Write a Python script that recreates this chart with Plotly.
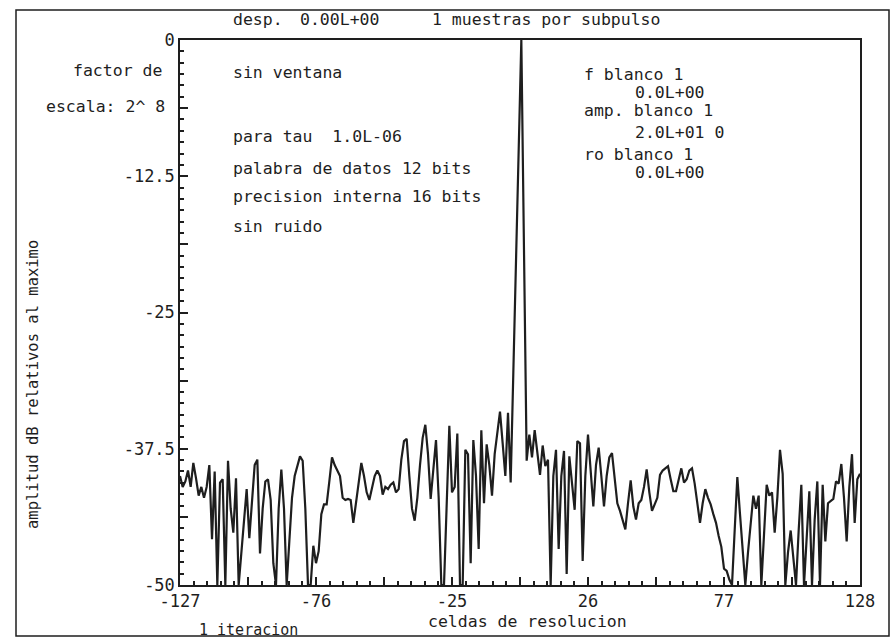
import plotly.graph_objects as go

# ---------------- data ----------------
cells = list(range(-127, 129))
amplitude_db = [
    -40, -41, -40.5, -39.5, -41, -38.8, -40.2, -41.8, -41, -42,
    -41, -39, -45.8, -39.6, -50, -40.6, -40.3, -50, -38.6, -43,
    -45.2, -40.2, -50, -47, -43.5, -41.2, -45.7, -42.5, -39, -38.5,
    -47.1, -43, -40.5, -40.3, -42.2, -48, -50, -43, -39.4, -43,
    -50, -46, -42, -40, -39, -38.2, -38.6, -43, -50, -50,
    -46.4, -48, -46.9, -43.5, -42.6, -42.6, -40.5, -38.3, -39, -39.5,
    -40, -42, -42.2, -42.1, -42.2, -44.3, -42.5, -40.5, -38.8, -40,
    -41.5, -42.2, -41, -40, -39.5, -40, -41.7, -41, -41.2, -40.8,
    -40.6, -41.5, -41.2, -38.5, -36.8, -36.6, -40, -43, -44.1, -42,
    -39, -36.5, -35.3, -38, -42.1, -39, -36.7, -42, -50, -50,
    -42, -35.4, -41.5, -41, -36.1, -50, -50, -37.6, -38, -48,
    -36.7, -40, -46.7, -35.8, -42.5, -37.1, -39, -41.8, -38, -36,
    -34.1, -37, -40, -34.2, -40.6, -30.5, -20.3, -10.2, 0, -19.3,
    -38.6, -36.2, -38.3, -35.8, -38, -39.9, -37.2, -39.1, -38.5, -50,
    -40, -37.6, -46.7, -40, -37.7, -49, -38.2, -40.5, -43.1, -36.8,
    -37, -47.8, -40, -36.2, -39.5, -42.8, -39, -37.4, -40, -42.8,
    -40, -38.3, -37.9, -40, -42.5, -43.2, -44, -44.9, -42.5, -40.4,
    -42.8, -44, -42.5, -42.2, -41, -39.4, -41.5, -43.2, -42.6, -42,
    -39.9, -39.5, -39.3, -39.1, -40.3, -41.4, -41.4, -40.2, -39.3, -40.6,
    -40.3, -39.5, -39.3, -40.7, -42.5, -44.3, -42.5, -41.2, -42, -42.6,
    -43.5, -44.3, -45.5, -46.5, -48.5, -48.7, -49.5, -50, -45, -40.1,
    -43.5, -47, -50, -47, -44, -41.8, -43, -41.8, -50, -45,
    -40.8, -41.8, -41.5, -45.2, -42, -37.6, -39.8, -50, -47, -45,
    -47.5, -50, -45, -40.8, -50, -45, -41.4, -50, -44, -40.5,
    -50, -40.8, -46, -42.5, -42.3, -42.1, -40.5, -40.7, -38.9, -42,
    -46, -41, -38, -44.3, -40.3, -39.8,
]

x_tickvals = [-127, -101.5, -76, -50.5, -25, 0.5, 26, 51.5, 77, 102.5, 128]
x_ticktext = ["-127", "", "-76", "", "-25", "", "26", "", "77", "", "128"]
y_tickvals = [0, -6.25, -12.5, -18.75, -25, -31.25, -37.5, -43.75, -50]
y_ticktext = ["0", "", "-12.5", "", "-25", "", "-37.5", "", "-50"]

header_texts = ["desp.", "0.00L+00", "1 muestras por subpulso"]
left_texts = ["sin ventana", "para tau  1.0L-06", "palabra de datos 12 bits",
              "precision interna 16 bits", "sin ruido"]
right_texts = ["f blanco 1", "0.0L+00", "amp. blanco 1", "2.0L+01 0",
               "ro blanco 1", "0.0L+00"]
scale_texts = ["factor de", "escala: 2^ 8"]
y_title = "amplitud dB relativos al maximo"
x_title = "celdas de resolucion"
iter_text = "1 iteracion"

# ---------------- layout helpers ----------------
W, H = 896, 640
L, R, T, B = 180, 36, 40, 55
PW, PH = W - L - R, H - T - B


def px(x):
    return (x - L) / PW


def py(y):
    return (H - B - y) / PH


FONT = "DejaVu Sans Mono"
INK = "#1e1e1e"

fig = go.Figure()
fig.add_trace(go.Scatter(
    x=cells, y=amplitude_db, mode="lines",
    line=dict(color=INK, width=2.2), hoverinfo="skip", showlegend=False,
))

annotations = []


def note(text, x, y, size=16.5, xanchor="left", angle=0):
    annotations.append(dict(
        text=text, x=px(x), y=py(y), xref="paper", yref="paper",
        xanchor=xanchor, yanchor="middle", showarrow=False, textangle=angle,
        font=dict(family=FONT, size=size, color=INK),
    ))


note(header_texts[0], 231, 19)
note(header_texts[1], 298, 19)
note(header_texts[2], 430, 19)

for t, yy in zip(left_texts, [73, 136, 168, 197, 227]):
    note(t, 231, yy)

for t, xx, yy in zip(right_texts, [582, 633, 582, 633, 582, 633],
                     [75, 93, 111, 133, 155, 173]):
    note(t, xx, yy)

note(scale_texts[0], 164, 71, xanchor="right")
note(scale_texts[1], 167, 107, xanchor="right")

note(y_title, 33, 385, size=15.5, xanchor="center", angle=-90)
note(x_title, 527, 621, xanchor="center")
note(iter_text, 197, 630, size=15)

fig.update_layout(
    width=W, height=H,
    margin=dict(l=L, r=R, t=T, b=B),
    paper_bgcolor="white", plot_bgcolor="white",
    annotations=annotations,
    shapes=[dict(type="rect", xref="paper", yref="paper",
                 x0=px(16), x1=px(889), y0=py(636), y1=py(10),
                 line=dict(color=INK, width=1.5))],
    xaxis=dict(
        range=[-127, 128], tickmode="array", tickvals=x_tickvals,
        ticktext=x_ticktext, ticks="inside", ticklen=8, tickwidth=1.5,
        tickcolor=INK, showline=True, linecolor=INK, linewidth=1.5,
        mirror=True, showgrid=False, zeroline=False,
        tickfont=dict(family=FONT, size=17, color=INK),
        minor=dict(tick0=-127, dtick=5.1, ticks="inside", ticklen=4,
                   tickwidth=1.5, tickcolor=INK, showgrid=False),
    ),
    yaxis=dict(
        range=[-50, 0], tickmode="array", tickvals=y_tickvals,
        ticktext=y_ticktext, ticks="inside", ticklen=8, tickwidth=1.5,
        tickcolor=INK, showline=True, linecolor=INK, linewidth=1.5,
        mirror=True, showgrid=False, zeroline=False,
        tickfont=dict(family=FONT, size=17, color=INK),
        minor=dict(tick0=0, dtick=6.25 / 6, ticks="inside", ticklen=4,
                   tickwidth=1.5, tickcolor=INK, showgrid=False),
    ),
)

fig.write_html(
    "out.html",
    config={"displayModeBar": False},
    post_script="document.body.style.margin='0px';"
                "document.body.style.overflow='hidden';",
)
